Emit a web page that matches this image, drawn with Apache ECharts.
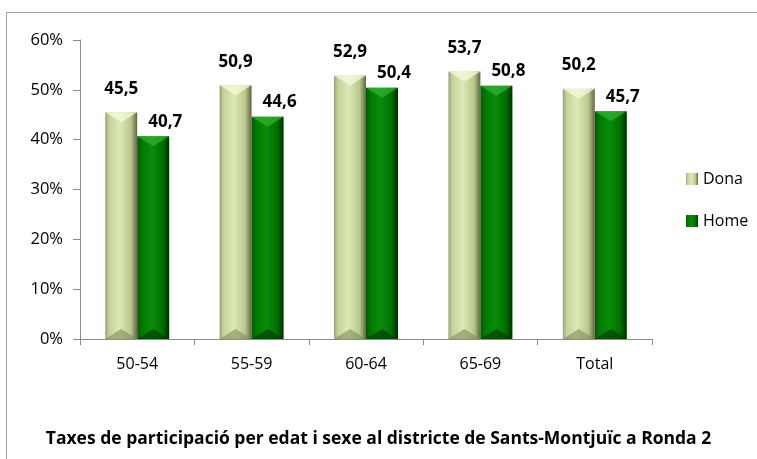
<!DOCTYPE html>
<html><head><meta charset="utf-8">
<script src="https://cdn.jsdelivr.net/npm/echarts@6/dist/echarts.min.js"></script>
<style>html,body{margin:0;padding:0;background:#fff}#c{width:757px;height:459px}</style>
</head><body><div id="c"></div>
<script>
const categories = ['50-54', '55-59', '60-64', '65-69', 'Total'];
const dona = [45.5, 50.9, 52.9, 53.7, 50.2];
const home = [40.7, 44.6, 50.4, 50.8, 45.7];
const yTicks = [0, 10, 20, 30, 40, 50, 60];
const titleText = 'Taxes de participació per edat i sexe al districte de Sants-Montjuïc a Ronda 2';

const FONT = '"Open Sans", "Liberation Sans", sans-serif';
const BW = 32;
const donaGrad = new echarts.graphic.LinearGradient(0, 0, 1, 0, [
  {offset: 0, color: '#97a374'}, {offset: 0.12, color: '#c4d29a'}, {offset: 0.45, color: '#dde9b6'},
  {offset: 0.8, color: '#b9c78c'}, {offset: 1, color: '#5f6645'}]);
const homeGrad = new echarts.graphic.LinearGradient(0, 0, 1, 0, [
  {offset: 0, color: '#005c00'}, {offset: 0.15, color: '#007a00'}, {offset: 0.45, color: '#0a8c0a'},
  {offset: 0.8, color: '#006e00'}, {offset: 1, color: '#002a00'}]);

function bevel(side, topColor, botColor) {
  return function (params, api) {
    const idx = api.value(0), val = api.value(1);
    const top = api.coord([idx, val]);
    const bot = api.coord([idx, 0]);
    const x0 = side < 0 ? top[0] - BW : top[0];
    const x1 = x0 + BW, xm = x0 + BW / 2, d = 10;
    return {type: 'group', silent: true, children: [
      {type: 'polygon', shape: {points: [[x0, top[1]], [x1, top[1]], [xm, top[1] + d]]},
        style: {fill: topColor, opacity: 0.75}},
      {type: 'polygon', shape: {points: [[x0, bot[1]], [x1, bot[1]], [xm, bot[1] - d]]},
        style: {fill: botColor, opacity: 0.6}}
    ]};
  };
}

const chart = echarts.init(document.getElementById('c'), null, {renderer: 'canvas'});
const fmt = p => p.value.toFixed(1).replace('.', ',');
chart.setOption({
  animation: false,
  textStyle: {fontFamily: FONT},
  graphic: [{type: 'rect', shape: {x: 6.5, y: 12.5, width: 760, height: 460}, style: {fill: 'none', stroke: '#a0a0a0', lineWidth: 1}, silent: true}],
  title: {text: titleText, left: 'center', top: 425, textStyle: {fontFamily: FONT, fontSize: 17.5, fontWeight: 'bold', color: '#000'}},
  legend: {orient: 'vertical', left: 681, top: 166, itemWidth: 12, itemHeight: 12, itemGap: 26,
    textStyle: {fontFamily: FONT, fontSize: 16, color: '#000'},
    data: [{name: 'Dona', icon: 'rect'}, {name: 'Home', icon: 'rect'}]},
  grid: {left: 80, right: 105, top: 40, bottom: 120, containLabel: false},
  xAxis: {type: 'category', data: categories,
    axisLine: {lineStyle: {color: '#8c8c8c'}},
    axisTick: {show: true, alignWithLabel: false, length: 6, lineStyle: {color: '#8c8c8c'}},
    axisLabel: {fontFamily: FONT, fontSize: 16, color: '#000', margin: 17}},
  yAxis: {type: 'value', min: yTicks[0], max: yTicks[yTicks.length - 1], interval: 10,
    axisLine: {show: true, lineStyle: {color: '#8c8c8c'}},
    axisTick: {show: true, length: 7, lineStyle: {color: '#8c8c8c'}},
    splitLine: {show: false},
    axisLabel: {fontFamily: FONT, fontSize: 16.5, color: '#000', margin: 17, formatter: '{value}%'}},
  series: [
    {name: 'Dona', type: 'bar', data: dona, barWidth: BW, barGap: '0%', itemStyle: {color: donaGrad},
      label: {show: true, position: 'top', distance: 15, fontFamily: FONT, fontWeight: 'bold', fontSize: 17, color: '#000', formatter: fmt}},
    {name: 'Home', type: 'bar', data: home, barWidth: BW, barGap: '0%', itemStyle: {color: homeGrad},
      label: {show: true, position: 'top', distance: 6, offset: [12, 0], fontFamily: FONT, fontWeight: 'bold', fontSize: 17, color: '#000', formatter: fmt}},
    {name: 'donaBevel', type: 'custom', data: dona.map((v, i) => [i, v]), renderItem: bevel(-1, '#f4fadc', '#7f8a5a'), z: 5, silent: true, tooltip: {show: false}},
    {name: 'homeBevel', type: 'custom', data: home.map((v, i) => [i, v]), renderItem: bevel(1, '#33b033', '#003300'), z: 5, silent: true, tooltip: {show: false}}
  ]
});
</script></body></html>
